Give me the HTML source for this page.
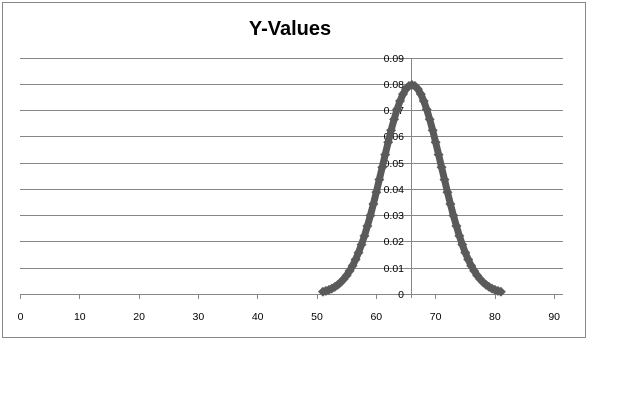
<!DOCTYPE html>
<html><head><meta charset="utf-8"><style>body{margin:0;background:#fff}</style></head><body>
<svg width="640" height="400" xmlns="http://www.w3.org/2000/svg" font-family="Liberation Sans, sans-serif">
<defs><marker id="d" markerWidth="10" markerHeight="10" refX="5" refY="5" markerUnits="userSpaceOnUse"><polygon points="5,0 10,5 5,10 0,5" fill="#5a5a5a"/></marker></defs>
<rect x="2.5" y="2.5" width="583" height="335" fill="#fff" stroke="#868686"/>
<text x="290" y="35" font-size="20" font-weight="bold" text-anchor="middle" fill="#000">Y-Values</text>
<g stroke="#868686" stroke-width="1">
<line x1="20" x2="563" y1="58.5" y2="58.5"/>
<line x1="20" x2="563" y1="84.5" y2="84.5"/>
<line x1="20" x2="563" y1="110.5" y2="110.5"/>
<line x1="20" x2="563" y1="136.5" y2="136.5"/>
<line x1="20" x2="563" y1="163.5" y2="163.5"/>
<line x1="20" x2="563" y1="189.5" y2="189.5"/>
<line x1="20" x2="563" y1="215.5" y2="215.5"/>
<line x1="20" x2="563" y1="241.5" y2="241.5"/>
<line x1="20" x2="563" y1="268.5" y2="268.5"/>
<line x1="20" x2="563" y1="294.5" y2="294.5"/>
<line x1="20.5" x2="20.5" y1="294" y2="299"/>
<line x1="79.5" x2="79.5" y1="294" y2="299"/>
<line x1="139.5" x2="139.5" y1="294" y2="299"/>
<line x1="198.5" x2="198.5" y1="294" y2="299"/>
<line x1="257.5" x2="257.5" y1="294" y2="299"/>
<line x1="317.5" x2="317.5" y1="294" y2="299"/>
<line x1="376.5" x2="376.5" y1="294" y2="299"/>
<line x1="435.5" x2="435.5" y1="294" y2="299"/>
<line x1="495.5" x2="495.5" y1="294" y2="299"/>
<line x1="554.5" x2="554.5" y1="294" y2="299"/>
<line x1="411.5" x2="411.5" y1="58" y2="298"/>
</g>
<g font-size="10.5" fill="#000" text-anchor="middle">
<text x="20.5" y="320">0</text><text x="79.8" y="320">10</text><text x="139.1" y="320">20</text><text x="198.4" y="320">30</text><text x="257.7" y="320">40</text><text x="317" y="320">50</text><text x="376.3" y="320">60</text><text x="435.6" y="320">70</text><text x="494.9" y="320">80</text><text x="554.2" y="320">90</text>
</g>
<g font-size="10.5" fill="#000" text-anchor="end">
<text x="404" y="62">0.09</text><text x="404" y="88">0.08</text><text x="404" y="114">0.07</text><text x="404" y="140">0.06</text><text x="404" y="167">0.05</text><text x="404" y="193">0.04</text><text x="404" y="219">0.03</text><text x="404" y="245">0.02</text><text x="404" y="272">0.01</text><text x="404" y="298">0</text>
</g>
<polyline fill="none" stroke="#5a5a5a" stroke-width="7" stroke-linejoin="round" marker-start="url(#d)" marker-mid="url(#d)" marker-end="url(#d)"
points="322.95,291.7 325.9,290.9 328.88,289.9 331.8,288.6 334.81,286.9 337.8,284.8 340.74,282.3 343.7,279.1 346.67,275.4 349.6,270.9 352.6,265.7 355.6,259.5 358.53,252.6 361.5,244.6 364.46,235.9 367.4,226.0 370.39,215.5 373.4,204.0 376.32,192.2 379.3,179.6 382.25,167.2 385.2,154.6 388.18,142.2 391.1,130.3 394.11,119.3 397.1,109.4 400.04,101.0 403.0,94.1 405.97,89.0 408.9,86.0 411.9,84.9 414.9,86.0 417.83,89.0 420.8,94.1 423.76,101.0 426.7,109.4 429.69,119.3 432.7,130.3 435.62,142.2 438.6,154.6 441.55,167.2 444.5,179.6 447.48,192.2 450.4,204.0 453.41,215.5 456.4,226.0 459.34,235.9 462.3,244.6 465.27,252.6 468.2,259.5 471.2,265.7 474.2,270.9 477.13,275.4 480.1,279.1 483.06,282.3 486.0,284.8 488.99,286.9 492.0,288.6 494.92,289.9 497.9,290.9 500.85,291.7"/>
</svg>
</body></html>
